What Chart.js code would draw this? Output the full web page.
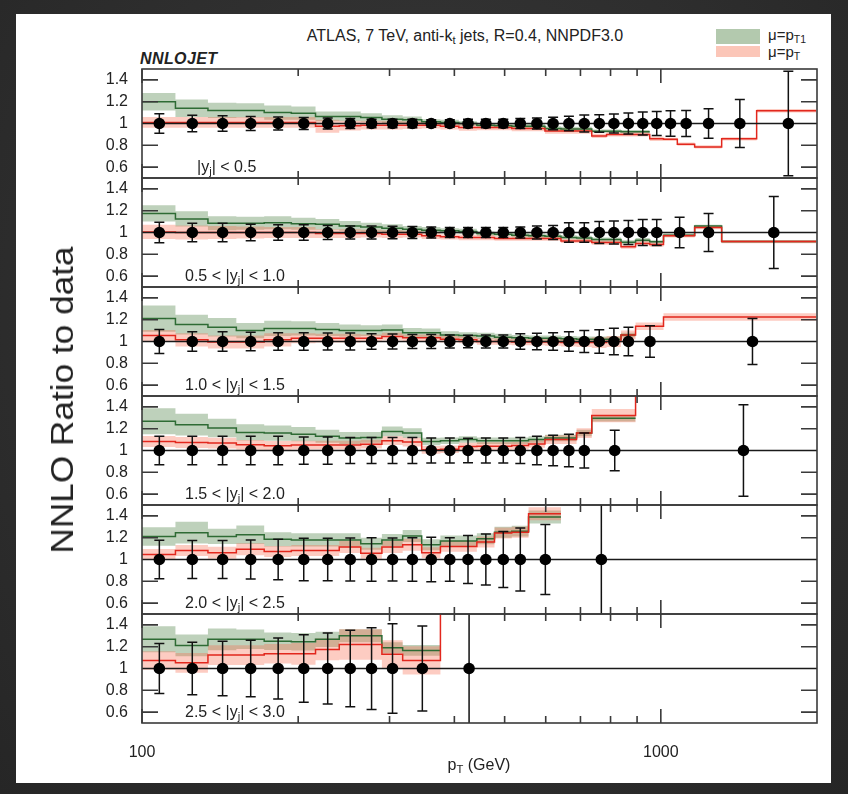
<!DOCTYPE html>
<html><head><meta charset="utf-8">
<script src="https://cdn.jsdelivr.net/npm/chart.js@4/dist/chart.umd.min.js"></script>
<style>
html,body{margin:0;padding:0;}
body{width:848px;height:794px;background:radial-gradient(ellipse at 50% 40%,#3a3a3a 0%,#262626 100%);position:relative;overflow:hidden;font-family:"Liberation Sans",Arial,sans-serif;}
#sheet{position:absolute;left:16px;top:14px;width:815px;height:769px;background:#fff;}
canvas{position:absolute;left:0;}
.t{position:absolute;color:#222;white-space:nowrap;line-height:1;}
.t sub{font-size:70%;vertical-align:-0.3em;line-height:0;}
</style></head><body>
<div id="sheet"></div>
<canvas id="p0" width="848" height="113" style="top:67px"></canvas>
<canvas id="p1" width="848" height="113" style="top:176px"></canvas>
<canvas id="p2" width="848" height="113" style="top:285px"></canvas>
<canvas id="p3" width="848" height="113" style="top:394px"></canvas>
<canvas id="p4" width="848" height="113" style="top:503px"></canvas>
<canvas id="p5" width="848" height="181" style="top:612px"></canvas>

<div class="t" style="left:465px;top:28px;font-size:16px;transform:translateX(-50%)">ATLAS, 7 TeV, anti-k<sub>t</sub> jets, R=0.4, NNPDF3.0</div>
<div class="t" style="left:140px;top:51px;font-size:16px;font-weight:bold;font-style:italic;letter-spacing:0.4px">NNLOJET</div>
<div style="position:absolute;left:716px;top:29px;width:44px;height:15px;background:#b3c9ae"></div>
<div style="position:absolute;left:716px;top:46px;width:44px;height:11px;background:#fbc6b8"></div>
<div class="t" style="left:768px;top:27px;font-size:15px">μ=p<sub>T1</sub></div>
<div class="t" style="left:768px;top:44px;font-size:15px">μ=p<sub>T</sub></div>
<div class="t" style="left:62px;top:400px;font-size:32px;transform:translate(-50%,-50%) rotate(-90deg) scaleX(1.1)">NNLO Ratio to data</div>
<div class="t" style="left:479px;top:757px;font-size:16px;transform:translateX(-50%)">p<sub>T</sub> (GeV)</div>
<div id="labels"></div>

<script>
// ---- axes ----
const X_RANGE = [100, 2000];
const Y_RANGE = [0.5, 1.5];
const REF = 1;
const Y_TICKS = [0.6, 0.8, 1, 1.2, 1.4];
const Y_TICK_LABELS = ['0.6', '0.8', '1', '1.2', '1.4'];
const X_MAJOR = [100, 1000];
const X_LABELS = ['100', '1000'];
const X_MINOR = [200, 300, 400, 500, 600, 700, 800, 900];
const panelLabels = ['|y<sub>j</sub>| &lt; 0.5', '0.5 &lt; |y<sub>j</sub>| &lt; 1.0', '1.0 &lt; |y<sub>j</sub>| &lt; 1.5',
                     '1.5 &lt; |y<sub>j</sub>| &lt; 2.0', '2.0 &lt; |y<sub>j</sub>| &lt; 2.5', '2.5 &lt; |y<sub>j</sub>| &lt; 3.0'];

// ---- |y|<0.5 ----
const edges1 = [100,116,134,152,172,194,216,240,264,290,318,346,376,408,442,478,516,556,598,642,688,736,786,838,894,952,1012,1076,1162,1310,1530,1992];
const err1 = [0.09,0.075,0.07,0.065,0.06,0.055,0.05,0.045,0.04,0.04,0.04,0.035,0.035,0.04,0.04,0.04,0.045,0.05,0.057,0.066,0.077,0.08,0.088,0.097,0.105,0.11,0.118,0.12,0.135,0.22,0.48];
const red1 = [1.01,1.01,1.01,1.01,1.01,1.01,0.975,0.98,0.985,0.985,0.985,0.985,0.975,0.963,0.963,0.963,0.955,0.955,0.932,0.932,0.932,0.886,0.9,0.9,0.9,0.86,0.855,0.81,0.785,0.86,1.117];
const redBand1 = [0.05,0.05,0.05,0.05,0.05,0.05,0.06,0.045,0.04,0.04,0.035,0.03,0.03,0.03,0.025,0.025,0.025,0.025,0.025,0.025,0.025,0.02,0.02,0.02,0.02,0.02,0.015,0.015,0.015,0.015,0.015];
const green1 = [1.2,1.14,1.12,1.12,1.1,1.095,1.065,1.065,1.055,1.04,1.035,1.015,1.01,1.0,0.985,0.98,0.975,0.975,0.955,0.95,0.95,0.93,0.93,0.925,0.925];
const greenBand1 = [0.08,0.08,0.07,0.065,0.065,0.06,0.045,0.045,0.04,0.035,0.03,0.025,0.025,0.02,0.02,0.02,0.02,0.02,0.02,0.02,0.02,0.015,0.015,0.015,0.015];

// ---- 0.5<|y|<1.0 ----
const edges2 = [100,116,134,152,172,194,216,240,264,290,318,346,376,408,442,478,516,556,598,642,688,736,786,838,894,952,1012,1162,1310,1992];
const err2 = [0.095,0.085,0.085,0.075,0.07,0.07,0.065,0.06,0.06,0.058,0.055,0.05,0.045,0.045,0.045,0.045,0.05,0.06,0.065,0.09,0.09,0.1,0.105,0.11,0.12,0.12,0.14,0.175,0.33];
const red2 = [1.005,1.0,1.0,1.0,1.0,1.0,0.99,0.99,0.99,0.985,0.985,0.97,0.96,0.955,0.955,0.945,0.945,0.945,0.945,0.923,0.923,0.908,0.908,0.87,0.9,0.89,0.97,1.045,0.917];
const redBand2 = [0.065,0.065,0.06,0.055,0.05,0.05,0.04,0.04,0.035,0.035,0.03,0.03,0.025,0.025,0.025,0.02,0.02,0.02,0.02,0.02,0.02,0.02,0.02,0.02,0.02,0.02,0.015,0.015,0.015];
const green2 = [1.175,1.125,1.085,1.085,1.09,1.08,1.075,1.06,1.05,1.04,1.03,1.02,1.015,1.01,0.99,0.985,0.975,0.97,0.965,0.955,0.95,0.935,0.935,0.91,0.93,0.915,0.975,1.06,0.917];
const greenBand2 = [0.075,0.07,0.065,0.06,0.06,0.055,0.05,0.045,0.04,0.035,0.03,0.03,0.025,0.025,0.02,0.02,0.02,0.02,0.02,0.02,0.02,0.02,0.02,0.02,0.02,0.015,0.015,0.01,0.01];

// ---- 1.0<|y|<1.5 ----
const edges3 = [100,116,134,152,172,194,216,240,264,290,318,346,376,408,442,478,516,556,598,642,688,736,786,838,894,1012,1992];
const err3 = [0.11,0.09,0.09,0.085,0.08,0.08,0.077,0.077,0.072,0.068,0.065,0.065,0.06,0.058,0.06,0.06,0.07,0.075,0.08,0.09,0.1,0.108,0.122,0.13,0.145,0.21];
const red3 = [1.055,1.015,0.995,0.995,1.015,1.03,1.03,1.03,1.03,1.045,1.035,1.035,1.02,1.015,1.0,1.0,0.995,0.995,0.995,0.99,0.99,0.99,1.0,1.06,1.14,1.225];
const redBand3 = [0.05,0.06,0.06,0.06,0.06,0.045,0.04,0.04,0.035,0.035,0.03,0.03,0.03,0.03,0.03,0.03,0.03,0.03,0.035,0.035,0.04,0.05,0.05,0.04,0.035,0.035];
const green3 = [1.21,1.155,1.13,1.1,1.12,1.12,1.11,1.1,1.1,1.105,1.08,1.08,1.06,1.055,1.05,1.04,1.035,1.03,1.03,1.025,1.02,1.02,1.02,1.06];
const greenBand3 = [0.12,0.09,0.085,0.07,0.07,0.065,0.06,0.055,0.05,0.05,0.045,0.04,0.035,0.03,0.03,0.03,0.025,0.025,0.025,0.025,0.025,0.025,0.025,0.02];

// ---- 1.5<|y|<2.0 ----
const edges4 = [100,116,134,152,172,194,216,240,264,290,318,346,376,408,442,478,516,556,598,642,688,736,894,1992];
const err4 = [0.13,0.13,0.13,0.13,0.13,0.125,0.125,0.12,0.12,0.12,0.12,0.115,0.115,0.112,0.115,0.115,0.12,0.13,0.14,0.15,0.16,0.185,0.42];
const red4 = [1.083,1.074,1.068,1.052,1.043,1.05,1.05,1.05,1.058,1.09,1.077,1.006,1.012,1.037,1.04,1.04,1.045,1.06,1.1,1.1,1.16,1.32,1.75];
const redBand4 = [0.05,0.05,0.05,0.045,0.045,0.04,0.04,0.04,0.04,0.04,0.04,0.035,0.035,0.035,0.035,0.035,0.035,0.035,0.04,0.04,0.045,0.06,0.1];
const green4 = [1.268,1.237,1.206,1.166,1.16,1.15,1.13,1.114,1.12,1.175,1.16,1.083,1.09,1.1,1.09,1.09,1.09,1.1,1.115,1.115,1.16,1.295];
const greenBand4 = [0.12,0.1,0.085,0.075,0.07,0.065,0.06,0.055,0.05,0.045,0.045,0.035,0.03,0.03,0.03,0.03,0.03,0.03,0.03,0.03,0.03,0.03];

// ---- 2.0<|y|<2.5 ----
const edges5 = [100,116,134,152,172,194,216,240,264,290,318,346,376,408,442,478,516,556,642,894];
const err5 = [0.177,0.175,0.175,0.18,0.185,0.195,0.195,0.197,0.2,0.197,0.2,0.205,0.2,0.22,0.235,0.257,0.29,0.32,0.6];
const red5 = [1.046,1.083,1.062,1.095,1.074,1.083,1.083,1.114,1.058,1.114,1.135,1.062,1.12,1.12,1.16,1.243,1.25,1.42];
const redBand5 = [0.05,0.05,0.055,0.055,0.05,0.05,0.05,0.055,0.05,0.055,0.055,0.05,0.05,0.05,0.05,0.05,0.05,0.06];
const green5 = [1.212,1.246,1.212,1.228,1.185,1.18,1.18,1.18,1.145,1.18,1.215,1.135,1.17,1.17,1.19,1.25,1.26,1.39];
const greenBand5 = [0.085,0.1,0.07,0.085,0.065,0.06,0.06,0.06,0.055,0.055,0.055,0.05,0.05,0.05,0.05,0.05,0.05,0.06];

// ---- 2.5<|y|<3.0 ----
const edges6 = [100,116,134,152,172,194,216,240,264,290,318,376,478];
const err6 = [0.23,0.24,0.25,0.26,0.28,0.31,0.325,0.35,0.375,0.41,0.39,0.6];
const red6 = [1.074,1.052,1.123,1.123,1.135,1.135,1.175,1.22,1.22,1.13,1.074,1.8];
const redBand6 = [0.085,0.09,0.09,0.09,0.09,0.1,0.1,0.14,0.14,0.13,0.13,0.2];
const green6 = [1.268,1.212,1.268,1.268,1.25,1.246,1.268,1.3,1.3,1.19,1.166];
const greenBand6 = [0.12,0.1,0.1,0.09,0.08,0.08,0.07,0.06,0.06,0.05,0.05];

const panels = [
  {edges: edges1, err: err1, red: red1, redBand: redBand1, green: green1, greenBand: greenBand1},
  {edges: edges2, err: err2, red: red2, redBand: redBand2, green: green2, greenBand: greenBand2},
  {edges: edges3, err: err3, red: red3, redBand: redBand3, green: green3, greenBand: greenBand3},
  {edges: edges4, err: err4, red: red4, redBand: redBand4, green: green4, greenBand: greenBand4},
  {edges: edges5, err: err5, red: red5, redBand: redBand5, green: green5, greenBand: greenBand5},
  {edges: edges6, err: err6, red: red6, redBand: redBand6, green: green6, greenBand: greenBand6}
];

// ---- styles ----
const FONT = '"Liberation Sans", Arial, sans-serif';
const RED = '#e2271d', GREEN = '#2e6b34';
const RED_BAND = 'rgba(248,110,80,0.35)', GREEN_BAND = 'rgba(85,135,75,0.38)';
const FRAME = '#3a3a3a';
const PANEL_TOP = 69, PANEL_H = 109;
const labelLeft = [197, 185, 185, 185, 185, 185];

function step(edges, vals, band, sign) {
  const pts = [];
  for (let i = 0; i < vals.length; i++) pts.push({x: edges[i], y: vals[i] + sign * band[i]});
  const n = vals.length - 1;
  pts.push({x: edges[vals.length], y: vals[n] + sign * band[n]});
  return pts;
}

const decor = {
  id: 'decor',
  beforeDatasetDraw(chart, args, opts) {
    if (args.index !== 0) return;
    const {ctx, chartArea: a, scales: {x, y}} = chart;
    ctx.save();
    ctx.beginPath(); ctx.rect(a.left, a.top, a.right - a.left, a.bottom - a.top); ctx.clip();
    ctx.strokeStyle = '#111'; ctx.lineWidth = 1.5;
    ctx.beginPath();
    opts.centers.forEach((c, i) => {
      const px = x.getPixelForValue(c);
      const yh = y.getPixelForValue(REF + opts.err[i]);
      const yl = y.getPixelForValue(REF - opts.err[i]);
      ctx.moveTo(px, yl); ctx.lineTo(px, yh);
      ctx.moveTo(px - 5, yl); ctx.lineTo(px + 5, yl);
      ctx.moveTo(px - 5, yh); ctx.lineTo(px + 5, yh);
    });
    ctx.stroke();
    ctx.restore();
  },
  afterDraw(chart) {
    const {ctx, chartArea: a, scales: {x, y}} = chart;
    ctx.save();
    ctx.strokeStyle = FRAME; ctx.lineWidth = 1.6;
    ctx.strokeRect(a.left, a.top, a.right - a.left, a.bottom - a.top);
    ctx.beginPath();
    Y_TICKS.forEach(v => {
      if (v === REF) return;
      const py = y.getPixelForValue(v);
      ctx.moveTo(a.left, py); ctx.lineTo(a.left + 16, py);
      ctx.moveTo(a.right, py); ctx.lineTo(a.right - 16, py);
    });
    X_MINOR.forEach(v => {
      const px = x.getPixelForValue(v);
      ctx.moveTo(px, a.top); ctx.lineTo(px, a.top + 7);
      ctx.moveTo(px, a.bottom); ctx.lineTo(px, a.bottom - 7);
    });
    X_MAJOR.forEach(v => {
      const px = x.getPixelForValue(v);
      ctx.moveTo(px, a.top); ctx.lineTo(px, a.top + 14);
      ctx.moveTo(px, a.bottom); ctx.lineTo(px, a.bottom - 14);
    });
    ctx.stroke();
    ctx.restore();
  }
};

function makeChart(k) {
  const p = panels[k];
  const isLast = k === panels.length - 1;
  const centers = p.err.map((e, i) => (p.edges[i] + p.edges[i + 1]) / 2);
  const lineDs = (data, color, order) => ({data, borderColor: color, borderWidth: 1.5, stepped: true, pointRadius: 0, fill: false, order});
  const bandDs = (data, fill, bg, order) => ({data, borderWidth: 0, borderColor: 'rgba(0,0,0,0)', stepped: true, pointRadius: 0, fill, backgroundColor: bg, order});
  const datasets = [
    {data: centers.map(c => ({x: c, y: REF})), showLine: false, pointRadius: 5.8, pointBackgroundColor: '#000', pointBorderColor: '#000', pointBorderWidth: 0, order: 0},
    {data: [{x: X_RANGE[0], y: REF}, {x: X_RANGE[1], y: REF}], borderColor: '#1a1a1a', borderWidth: 1.3, pointRadius: 0, fill: false, order: 1},
    lineDs(step(p.edges, p.red, p.redBand, 0), RED, 2),
    lineDs(step(p.edges, p.green, p.greenBand, 0), GREEN, 3),
    bandDs(step(p.edges, p.red, p.redBand, 1), false, RED_BAND, 4),
    bandDs(step(p.edges, p.red, p.redBand, -1), '-1', RED_BAND, 5),
    bandDs(step(p.edges, p.green, p.greenBand, 1), false, GREEN_BAND, 6),
    bandDs(step(p.edges, p.green, p.greenBand, -1), '-1', GREEN_BAND, 7)
  ];
  new Chart(document.getElementById('p' + k), {
    type: 'line',
    data: {datasets},
    plugins: [decor],
    options: {
      responsive: false, animation: false, events: [],
      layout: {autoPadding: false, padding: {left: 0, right: 31, top: 2, bottom: isLast ? 0 : 2}},
      plugins: {legend: {display: false}, tooltip: {enabled: false}, decor: {centers, err: p.err}},
      scales: {
        x: {
          type: 'logarithmic', min: X_RANGE[0], max: X_RANGE[1], display: isLast,
          grid: {display: false}, border: {display: false},
          afterBuildTicks: s => { s.ticks = X_MAJOR.map(v => ({value: v})); },
          afterFit: s => { s.height = isLast ? 70 : 0; s.paddingLeft = 0; s.paddingRight = 0; },
          ticks: {padding: 12, color: '#222', maxRotation: 0, autoSkip: false, font: {family: FONT, size: 16}, callback: (v, i) => X_LABELS[i]}
        },
        y: {
          type: 'linear', min: Y_RANGE[0], max: Y_RANGE[1],
          grid: {display: false}, border: {display: false},
          afterBuildTicks: s => { s.ticks = Y_TICKS.map(v => ({value: v})); },
          afterFit: s => { s.width = 142; s.paddingTop = 0; s.paddingBottom = 0; },
          ticks: {padding: 6, color: '#222', autoSkip: false, font: {family: FONT, size: 16}, callback: (v, i) => Y_TICK_LABELS[i]}
        }
      }
    }
  });
  const lab = document.createElement('div');
  lab.className = 't';
  lab.style.cssText = 'left:' + labelLeft[k] + 'px;top:' + (PANEL_TOP + PANEL_H * k + 98) + 'px;font-size:16px;transform:translateY(-50%)';
  lab.innerHTML = panelLabels[k];
  document.getElementById('labels').appendChild(lab);
}

panels.forEach((p, k) => makeChart(k));
</script>
</body></html>
